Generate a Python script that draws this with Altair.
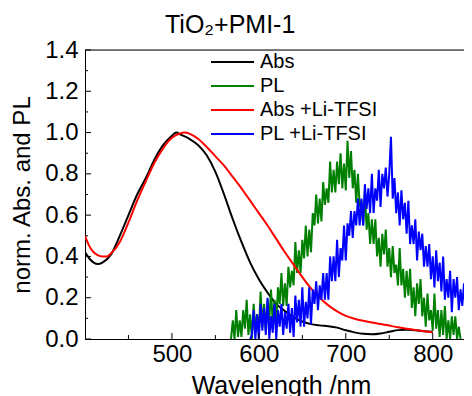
import altair as alt
import pandas as pd

FONT = "Liberation Sans"

series_names = ["Abs", "PL", "Abs +Li-TFSI", "PL +Li-TFSI"]
series_colors = ["#000000", "#008000", "#ff0000", "#0000ff"]

abs_wl = [400, 405, 410, 415, 420, 430, 440, 450, 460, 470, 480, 490, 500, 505,
          510, 520, 530, 540, 550, 560, 570, 580, 590, 600, 610, 620, 630, 640,
          650, 660, 670, 680, 690, 700, 710, 720, 730, 740, 750, 760, 770, 780,
          790, 800]
abs_val = [0.42, 0.39, 0.37, 0.363, 0.37, 0.41, 0.50, 0.60, 0.70, 0.78, 0.87,
           0.94, 0.985, 1.0, 0.99, 0.97, 0.94, 0.89, 0.81, 0.70, 0.58, 0.47,
           0.37, 0.29, 0.225, 0.17, 0.135, 0.105, 0.085, 0.072, 0.066, 0.062,
           0.055, 0.042, 0.032, 0.025, 0.023, 0.027, 0.035, 0.043, 0.045, 0.042,
           0.038, 0.035]

absli_wl = [400, 405, 410, 415, 420, 425, 430, 440, 450, 460, 470, 480, 490,
            500, 510, 515, 520, 530, 540, 550, 560, 570, 580, 590, 600, 610,
            620, 630, 640, 650, 660, 670, 680, 690, 700, 710, 720, 730, 740,
            750, 760, 770, 780, 790, 800]
absli_val = [0.50, 0.45, 0.42, 0.405, 0.40, 0.40, 0.415, 0.47, 0.565, 0.67,
             0.765, 0.855, 0.925, 0.975, 0.997, 1.0, 0.995, 0.97, 0.93, 0.885,
             0.84, 0.785, 0.73, 0.67, 0.61, 0.55, 0.485, 0.42, 0.36, 0.30,
             0.245, 0.2, 0.163, 0.134, 0.112, 0.098, 0.088, 0.08, 0.073,
             0.065, 0.057, 0.05, 0.044, 0.038, 0.032]

pl_wl = [568, 570, 572, 574, 576, 578, 580, 582, 584, 586, 588, 590, 592, 594,
         596, 598, 600, 602, 604, 606, 608, 610, 612, 614, 616, 618, 620, 622,
         624, 626, 628, 630, 632, 634, 636, 638, 640, 642, 644, 646, 648, 650,
         652, 654, 656, 658, 660, 662, 664, 666, 668, 670, 672, 674, 676, 678,
         680, 682, 684, 686, 688, 690, 692, 694, 696, 698, 700, 702, 704, 706,
         708, 710, 712, 714, 716, 718, 720, 722, 724, 726, 728, 730, 732, 734,
         736, 738, 740, 742, 744, 746, 748, 750, 752, 754, 756, 758, 760, 762,
         764, 766, 768, 770, 772, 774, 776, 778, 780, 782, 784, 786, 788, 790,
         792, 794, 796, 798, 800, 802, 804, 806, 808, 810, 812, 814, 816, 818,
         820, 822, 824, 826, 828, 830, 832]
pl_val = [0.00, 0.09, 0.00, 0.14, 0.01, 0.09, 0.01, 0.14, 0.05, 0.19, 0.02,
          0.12, 0.00, 0.17, 0.05, 0.12, 0.03, 0.23, 0.06, 0.17, 0.04, 0.19,
          0.09, 0.24, 0.07, 0.19, 0.07, 0.25, 0.17, 0.32, 0.16, 0.27, 0.16,
          0.35, 0.25, 0.33, 0.26, 0.47, 0.32, 0.43, 0.32, 0.48, 0.39, 0.55,
          0.40, 0.53, 0.42, 0.61, 0.55, 0.70, 0.56, 0.68, 0.57, 0.76, 0.65,
          0.73, 0.66, 0.86, 0.71, 0.82, 0.71, 0.86, 0.75, 0.90, 0.73, 0.85,
          0.72, 0.96, 0.78, 0.91, 0.73, 0.82, 0.66, 0.80, 0.64, 0.67, 0.55,
          0.72, 0.53, 0.61, 0.46, 0.58, 0.46, 0.58, 0.40, 0.49, 0.35, 0.51,
          0.41, 0.53, 0.35, 0.44, 0.30, 0.45, 0.32, 0.36, 0.26, 0.44, 0.26,
          0.34, 0.20, 0.33, 0.21, 0.34, 0.15, 0.25, 0.11, 0.27, 0.17, 0.29,
          0.11, 0.20, 0.06, 0.22, 0.09, 0.14, 0.04, 0.22, 0.05, 0.14, 0.01,
          0.14, 0.02, 0.16, 0.00, 0.09, 0.00, 0.11, 0.02, 0.11, 0.00, 0.06,
          0.00]

plli_wl = [590, 592, 594, 596, 598, 600, 602, 604, 606, 608, 610, 612, 614,
           616, 618, 620, 622, 624, 626, 628, 630, 632, 634, 636, 638, 640,
           642, 644, 646, 648, 650, 652, 654, 656, 658, 660, 662, 664, 666,
           668, 670, 672, 674, 676, 678, 680, 682, 684, 686, 688, 690, 692,
           694, 696, 698, 700, 702, 704, 706, 708, 710, 712, 714, 716, 718,
           720, 722, 724, 726, 728, 730, 732, 734, 736, 738, 740, 742, 744,
           746, 748, 750, 752, 754, 756, 758, 760, 762, 764, 766, 768, 770,
           772, 774, 776, 778, 780, 782, 784, 786, 788, 790, 792, 794, 796,
           798, 800, 802, 804, 806, 808, 810, 812, 814, 816, 818, 820, 822,
           824, 826, 828, 830, 832, 834, 836, 838, 840, 842, 844, 846]
plli_val = [0.00, 0.02, 0.14, 0.00, 0.12, 0.00, 0.17, 0.04, 0.15, 0.02, 0.20,
            0.00, 0.11, 0.03, 0.17, 0.00, 0.14, 0.06, 0.17, 0.02, 0.13, 0.05,
            0.17, 0.03, 0.15, 0.01, 0.21, 0.08, 0.19, 0.06, 0.25, 0.06, 0.18,
            0.10, 0.25, 0.07, 0.24, 0.17, 0.28, 0.14, 0.26, 0.19, 0.32, 0.19,
            0.32, 0.19, 0.40, 0.28, 0.40, 0.28, 0.48, 0.30, 0.44, 0.38, 0.55,
            0.38, 0.56, 0.50, 0.62, 0.49, 0.62, 0.55, 0.68, 0.55, 0.68, 0.55,
            0.75, 0.63, 0.73, 0.61, 0.80, 0.61, 0.73, 0.67, 0.82, 0.64, 0.80,
            0.73, 0.83, 0.69, 0.80, 0.98, 0.68, 0.78, 0.61, 0.71, 0.55, 0.72,
            0.58, 0.66, 0.51, 0.67, 0.46, 0.55, 0.46, 0.58, 0.38, 0.52, 0.43,
            0.51, 0.35, 0.45, 0.35, 0.46, 0.29, 0.40, 0.25, 0.43, 0.28, 0.37,
            0.23, 0.40, 0.19, 0.29, 0.20, 0.33, 0.13, 0.29, 0.20, 0.30, 0.14,
            0.24, 0.16, 0.27, 0.12, 0.23, 0.08, 0.27, 0.13]

x_major_ticks = [500, 600, 700, 800]
x_minor_ticks = [450, 550, 650, 750]
y_major_ticks = [0.0, 0.2, 0.4, 0.6, 0.8, 1.0, 1.2, 1.4]
y_minor_ticks = [0.1, 0.3, 0.5, 0.7, 0.9, 1.1, 1.3]

W, H = 379, 289

frames = []
for name, wl, val in [("Abs", abs_wl, abs_val), ("PL", pl_wl, pl_val),
                      ("Abs +Li-TFSI", absli_wl, absli_val),
                      ("PL +Li-TFSI", plli_wl, plli_val)]:
    frames.append(pd.DataFrame({"wl": wl, "val": val, "series": name}))
df = pd.concat(frames, ignore_index=True)

xscale = alt.Scale(domain=[400, 836], nice=False, zero=False)
yscale = alt.Scale(domain=[0, 1.4], nice=False, zero=True)

xaxis = alt.Axis(values=x_major_ticks, ticks=False, labelFontSize=24,
                 labelPadding=3, title="Wavelength /nm", titleFontSize=25,
                 titleFontWeight="normal", titlePadding=7, titleX=196,
                 grid=False, domainColor="black", labelColor="black",
                 titleColor="black", labelFont=FONT, titleFont=FONT)
yaxis = alt.Axis(values=y_major_ticks, format=".1f", ticks=False,
                 labelFontSize=24, labelPadding=7, title="norm. Abs. and PL",
                 titleFontSize=24, titleFontWeight="normal", titlePadding=10,
                 grid=False, domainColor="black", labelColor="black",
                 titleColor="black", labelFont=FONT, titleFont=FONT)

color = alt.Color(
    "series:N",
    scale=alt.Scale(domain=series_names, range=series_colors),
    legend=alt.Legend(orient="none", legendX=125, legendY=0, title=None,
                      symbolType="stroke", symbolSize=1849,
                      symbolStrokeWidth=2, labelFontSize=20, labelFont=FONT,
                      labelColor="black", clipHeight=24, rowPadding=0,
                      labelOffset=5, padding=0),
)

layers = []
for name in series_names:
    interp = "monotone" if name.startswith("Abs") else "linear"
    layers.append(
        alt.Chart(df)
        .transform_filter(alt.datum.series == name)
        .mark_line(strokeWidth=2, interpolate=interp, clip=True)
        .encode(
            x=alt.X("wl:Q", scale=xscale, axis=xaxis),
            y=alt.Y("val:Q", scale=yscale, axis=yaxis),
            color=color,
            order="wl:Q",
        )
    )

xmaj = alt.Chart(pd.DataFrame({"wl": x_major_ticks})).mark_rule(
    color="black", strokeWidth=1).encode(
    x=alt.X("wl:Q", scale=xscale, axis=xaxis), y=alt.value(H), y2=alt.value(H - 6))
xmin = alt.Chart(pd.DataFrame({"wl": x_minor_ticks})).mark_rule(
    color="black", strokeWidth=1).encode(
    x=alt.X("wl:Q", scale=xscale, axis=xaxis), y=alt.value(H), y2=alt.value(H - 4))
ymaj = alt.Chart(pd.DataFrame({"val": y_major_ticks})).mark_rule(
    color="black", strokeWidth=1).encode(
    y=alt.Y("val:Q", scale=yscale, axis=yaxis), x=alt.value(0), x2=alt.value(6))
ymin = alt.Chart(pd.DataFrame({"val": y_minor_ticks})).mark_rule(
    color="black", strokeWidth=1).encode(
    y=alt.Y("val:Q", scale=yscale, axis=yaxis), x=alt.value(0), x2=alt.value(3))
frame_top = alt.Chart(pd.DataFrame({"k": [0]})).mark_rule(
    color="black", strokeWidth=1).encode(
    y=alt.value(0), x=alt.value(0), x2=alt.value(W))

chart = alt.layer(*layers, xmaj, xmin, ymaj, ymin, frame_top).properties(
    width=W, height=H,
    title=alt.TitleParams("TiO\u2082+PMI-1", anchor="start", frame="group",
                          dx=80, fontSize=25, font=FONT, fontWeight="normal",
                          color="black", offset=0),
    autosize=alt.AutoSizeParams(type="none"),
    padding={"left": 77, "top": 42, "right": 0, "bottom": 58},
).configure_view(stroke=None).configure(background="white")

chart.save("out.html", embed_options={"renderer": "svg", "actions": False})
